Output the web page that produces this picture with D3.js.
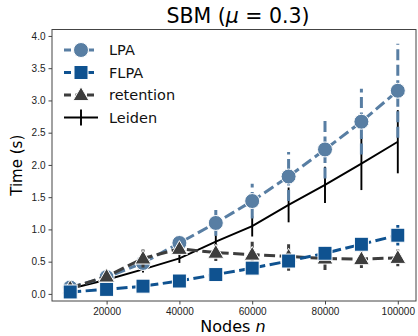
<!DOCTYPE html>
<html>
<head>
<meta charset="utf-8">
<script src="https://cdn.jsdelivr.net/npm/d3@7"></script>
<style>
  body { margin: 0; background: #fff; }
  svg { font-family: "DejaVu Sans", sans-serif; }
  .axis text { font-size: 10px; fill: #222; }
  .axis path { display: none; }
  .axis line { stroke: #444; }
</style>
</head>
<body>
<svg id="chart" width="418" height="336"></svg>
<script>
// node counts on the x axis
var nodes = [10000, 20000, 30000, 40000, 50000, 60000, 70000, 80000, 90000, 100000];

// mean runtime (s) and error half-widths per method
var lpa        = [0.10, 0.26, 0.48, 0.79, 1.10, 1.44, 1.82, 2.24, 2.67, 3.15];
var lpaErr     = [0.04, 0.05, 0.07, 0.12, 0.20, 0.27, 0.38, 0.45, 0.51, 0.73];
var flpa       = [0.03, 0.07, 0.12, 0.20, 0.30, 0.40, 0.51, 0.63, 0.77, 0.91];
var flpaErr    = [0.01, 0.01, 0.02, 0.03, 0.03, 0.04, 0.06, 0.07, 0.08, 0.16];
var retention  = [0.09, 0.27, 0.55, 0.70, 0.64, 0.61, 0.58, 0.55, 0.54, 0.56];
var retErr     = [0.05, 0.05, 0.14, 0.10, 0.13, 0.20, 0.22, 0.18, 0.14, 0.13];
var leiden     = [0.08, 0.22, 0.38, 0.55, 0.81, 1.05, 1.38, 1.69, 2.02, 2.36];
var leidenErr  = [0.02, 0.03, 0.05, 0.07, 0.10, 0.16, 0.27, 0.28, 0.41, 0.49];

var xTicks = [20000, 40000, 60000, 80000, 100000];
var yTicks = [0, 0.5, 1, 1.5, 2, 2.5, 3, 3.5, 4];

var svg = d3.select("#chart"),
    margin = {top: 29.5, right: 2, bottom: 35, left: 52},
    width = 418 - margin.left - margin.right,
    height = 336 - margin.top - margin.bottom;

var x = d3.scaleLinear().domain([5000, 105000]).range([margin.left, margin.left + width]);
var y = d3.scaleLinear().domain([-0.11, 4.1]).range([margin.top + height, margin.top]);

// axes
svg.append("g")
    .attr("class", "axis")
    .attr("transform", "translate(0," + (margin.top + height) + ")")
    .call(d3.axisBottom(x).tickValues(xTicks).tickSize(3.5).tickPadding(3).tickFormat(d3.format("d")));

svg.append("g")
    .attr("class", "axis")
    .attr("transform", "translate(" + margin.left + ",0)")
    .call(d3.axisLeft(y).tickValues(yTicks).tickSize(3.5).tickPadding(3).tickFormat(d3.format(".1f")));

// frame
svg.append("rect")
    .attr("x", margin.left)
    .attr("y", margin.top)
    .attr("width", width)
    .attr("height", height)
    .attr("fill", "none")
    .attr("stroke", "#444")
    .attr("stroke-width", 1);

// drawing order: Leiden at the back, FLPA on top
var series = [
  {name: "Leiden",    vals: leiden,    err: leidenErr, color: "#000000", dash: null,     lw: 1.9, marker: "bar"},
  {name: "LPA",       vals: lpa,       err: lpaErr,    color: "#587ea3", dash: "11,4.5", lw: 3, marker: "circle"},
  {name: "retention", vals: retention, err: retErr,    color: "#3d3d3d", dash: "11,4.5", lw: 3, marker: "triangle"},
  {name: "FLPA",      vals: flpa,      err: flpaErr,   color: "#0f5290", dash: "11,4.5", lw: 3, marker: "square"}
];

var line = d3.line()
    .x(function(d) { return x(d.n); })
    .y(function(d) { return y(d.v); });

function drawMarker(sel, s, cx, cy) {
  if (s.marker === "circle") {
    sel.append("circle").attr("cx", cx).attr("cy", cy).attr("r", 7.5)
      .attr("fill", s.color).attr("stroke", "#fff").attr("stroke-width", 1);
  } else if (s.marker === "square") {
    sel.append("rect").attr("x", cx - 7).attr("y", cy - 7).attr("width", 14).attr("height", 14)
      .attr("fill", s.color).attr("stroke", "#fff").attr("stroke-width", 1);
  } else if (s.marker === "triangle") {
    sel.append("path")
      .attr("d", d3.symbol().type(d3.symbolTriangle).size(110)())
      .attr("transform", "translate(" + cx + "," + (cy + 1) + ")")
      .attr("fill", s.color).attr("stroke", "#fff").attr("stroke-width", 1);
  }
}

var plot = svg.append("g");

series.forEach(function(s) {
  var pts = nodes.map(function(n, i) { return {n: n, v: s.vals[i], e: s.err[i]}; });
  var g = plot.append("g");

  // error bars
  g.selectAll("line.err")
    .data(pts)
    .enter().append("line")
      .attr("class", "err")
      .attr("x1", function(d) { return x(d.n); })
      .attr("x2", function(d) { return x(d.n); })
      .attr("y1", function(d) { return y(d.v - d.e); })
      .attr("y2", function(d) { return y(d.v + d.e); })
      .attr("stroke", s.color)
      .attr("stroke-width", s.lw)
      .attr("stroke-dasharray", s.dash);

  g.append("path")
    .datum(pts)
    .attr("d", line)
    .attr("fill", "none")
    .attr("stroke", s.color)
    .attr("stroke-width", s.lw)
    .attr("stroke-dasharray", s.dash);

  pts.forEach(function(d) { drawMarker(g, s, x(d.n), y(d.v)); });
});

// legend
var legendOrder = ["LPA", "FLPA", "retention", "Leiden"];
var legend = svg.append("g").attr("transform", "translate(64,50)");
legendOrder.forEach(function(name, i) {
  var s = series.filter(function(t) { return t.name === name; })[0];
  var row = legend.append("g").attr("transform", "translate(0," + i * 22.5 + ")");
  row.append("line")
    .attr("x1", 0).attr("x2", 34).attr("y1", 0).attr("y2", 0)
    .attr("stroke", s.color).attr("stroke-width", s.lw)
    .attr("stroke-dasharray", s.dash ? "7,4.5" : null);
  if (s.marker === "bar") {
    row.append("line").attr("x1", 17).attr("x2", 17).attr("y1", -8).attr("y2", 8)
      .attr("stroke", s.color).attr("stroke-width", s.lw);
  } else {
    drawMarker(row, s, 17, 0);
  }
  row.append("text")
    .attr("x", 45).attr("y", 0).attr("dy", "0.35em")
    .attr("font-size", 14.5).attr("fill", "#111")
    .text(name);
});

// titles
svg.append("text")
    .attr("x", 238).attr("y", 23)
    .attr("text-anchor", "middle")
    .attr("font-size", 20.5)
    .attr("fill", "#000")
    .html('SBM (<tspan font-style="italic">μ</tspan> = 0.3)');

svg.append("text")
    .attr("x", 233).attr("y", 332)
    .attr("text-anchor", "middle")
    .attr("font-size", 16)
    .attr("fill", "#000")
    .html('Nodes <tspan font-style="italic">n</tspan>');

svg.append("text")
    .attr("transform", "translate(22," + (margin.top + height / 2) + ") rotate(-90)")
    .attr("text-anchor", "middle")
    .attr("font-size", 15)
    .attr("fill", "#000")
    .text("Time (s)");
</script>
</body>
</html>
